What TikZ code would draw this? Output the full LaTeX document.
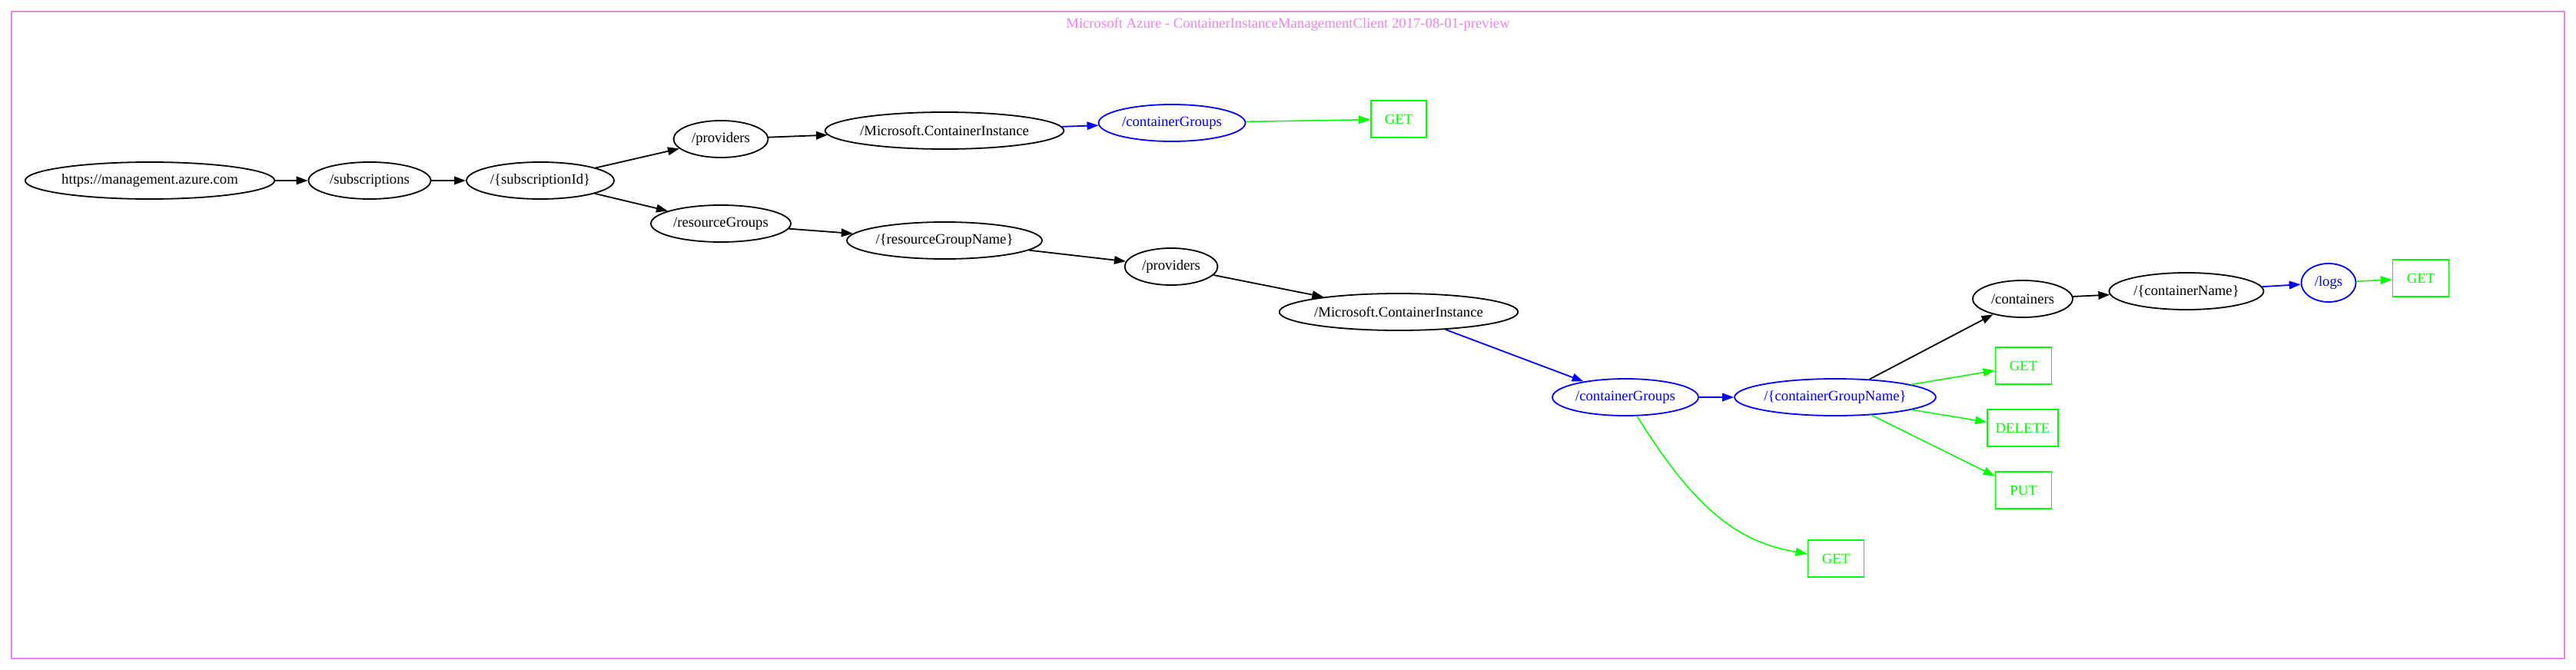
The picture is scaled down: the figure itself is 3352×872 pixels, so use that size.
\documentclass[tikz,border=0pt]{standalone}
\usepackage{fontspec}
\setmainfont{Liberation Serif}
\usetikzlibrary{shapes.geometric,arrows.meta}
\definecolor{gvviolet}{HTML}{EE82EE}
\definecolor{gvgreen}{HTML}{00FF00}
\definecolor{gvblue}{HTML}{0000FF}
\tikzset{
  base/.style={font=\fontsize{18.7}{20}\selectfont, inner sep=0pt, line width=1.8pt},
  ell/.style={base, ellipse, draw=black, text=black, minimum height=48pt},
  bell/.style={ell, draw=gvblue, text=gvblue},
  verb/.style={base, rectangle, draw=gvgreen, text=gvgreen, minimum height=48pt, minimum width=73pt},
  edge/.style={line width=1.8pt, draw=black, -{Triangle[length=15pt,width=10.5pt]}},
  bedge/.style={edge, draw=gvblue},
  gedge/.style={edge, draw=gvgreen, line width=1.5pt},
}
\begin{document}
\begin{tikzpicture}[x=1pt,y=-1pt]
\useasboundingbox (0,0) rectangle (3352,872);
\draw[gvviolet, line width=1.8pt] (15,15) rectangle (3337,857);
\node[base, text=gvviolet] (title) at (1676,32) {Microsoft Azure - ContainerInstanceManagementClient 2017-08-01-preview};

\node[ell, minimum width=318pt] (url) at (195,235) {https://management.azure.com};
\node[ell, minimum width=159pt] (subs) at (481,235) {/subscriptions};
\node[ell, minimum width=192pt] (subid) at (703,235) {/\{subscriptionId\}};
\node[ell, minimum width=123pt] (provA) at (938,181) {/providers};
\node[ell, minimum width=182pt] (rg) at (938,291) {/resourceGroups};
\node[ell, minimum width=305pt] (msciA) at (1229,170) {/Microsoft.ContainerInstance};
\node[bell, minimum width=191pt] (cgA) at (1525,160) {/containerGroups};
\node[verb, minimum width=72pt] (getA) at (1820,155) {GET};
\node[ell, minimum width=254pt] (rgn) at (1229,313) {/\{resourceGroupName\}};
\node[ell, minimum width=121pt] (provB) at (1524,347) {/providers};
\node[ell, minimum width=305pt] (msciB) at (1820,406) {/Microsoft.ContainerInstance};
\node[bell, minimum width=190pt] (cgB) at (2115,517) {/containerGroups};
\node[bell, minimum width=261pt] (cgn) at (2388,517) {/\{containerGroupName\}};
\node[ell, minimum width=130pt] (cont) at (2632,389) {/containers};
\node[ell, minimum width=201pt] (cname) at (2845,379) {/\{containerName\}};
\node[bell, minimum width=71pt, minimum height=50pt] (logs) at (3030,368) {/logs};
\node[verb] (getE) at (3150,362) {GET};
\node[verb] (getB) at (2633,476) {GET};
\node[verb, minimum width=92pt] (del) at (2632,557) {DELETE};
\node[verb] (put) at (2633,638) {PUT};
\node[verb] (getD) at (2389,727) {GET};

\draw[edge] (url) -- (subs);
\draw[edge] (subs) -- (subid);
\draw[edge] (subid) -- (provA);
\draw[edge] (subid) -- (rg);
\draw[edge] (provA) -- (msciA);
\draw[bedge] (msciA) -- (cgA);
\draw[gedge] (cgA) -- (getA);
\draw[edge] (rg) -- (rgn);
\draw[edge] (rgn) -- (provB);
\draw[edge] (provB) -- (msciB);
\draw[bedge] (msciB) -- (cgB);
\draw[bedge] (cgB) -- (cgn);
\draw[gedge] (cgB) .. controls (2207,666) and (2264,706) .. (getD);
\draw[edge] (cgn) -- (cont);
\draw[gedge] (cgn) -- (getB);
\draw[gedge] (cgn) -- (del);
\draw[gedge] (cgn) -- (put);
\draw[edge] (cont) -- (cname);
\draw[bedge] (cname) -- (logs);
\draw[gedge] (logs) -- (getE);
\end{tikzpicture}
\end{document}
